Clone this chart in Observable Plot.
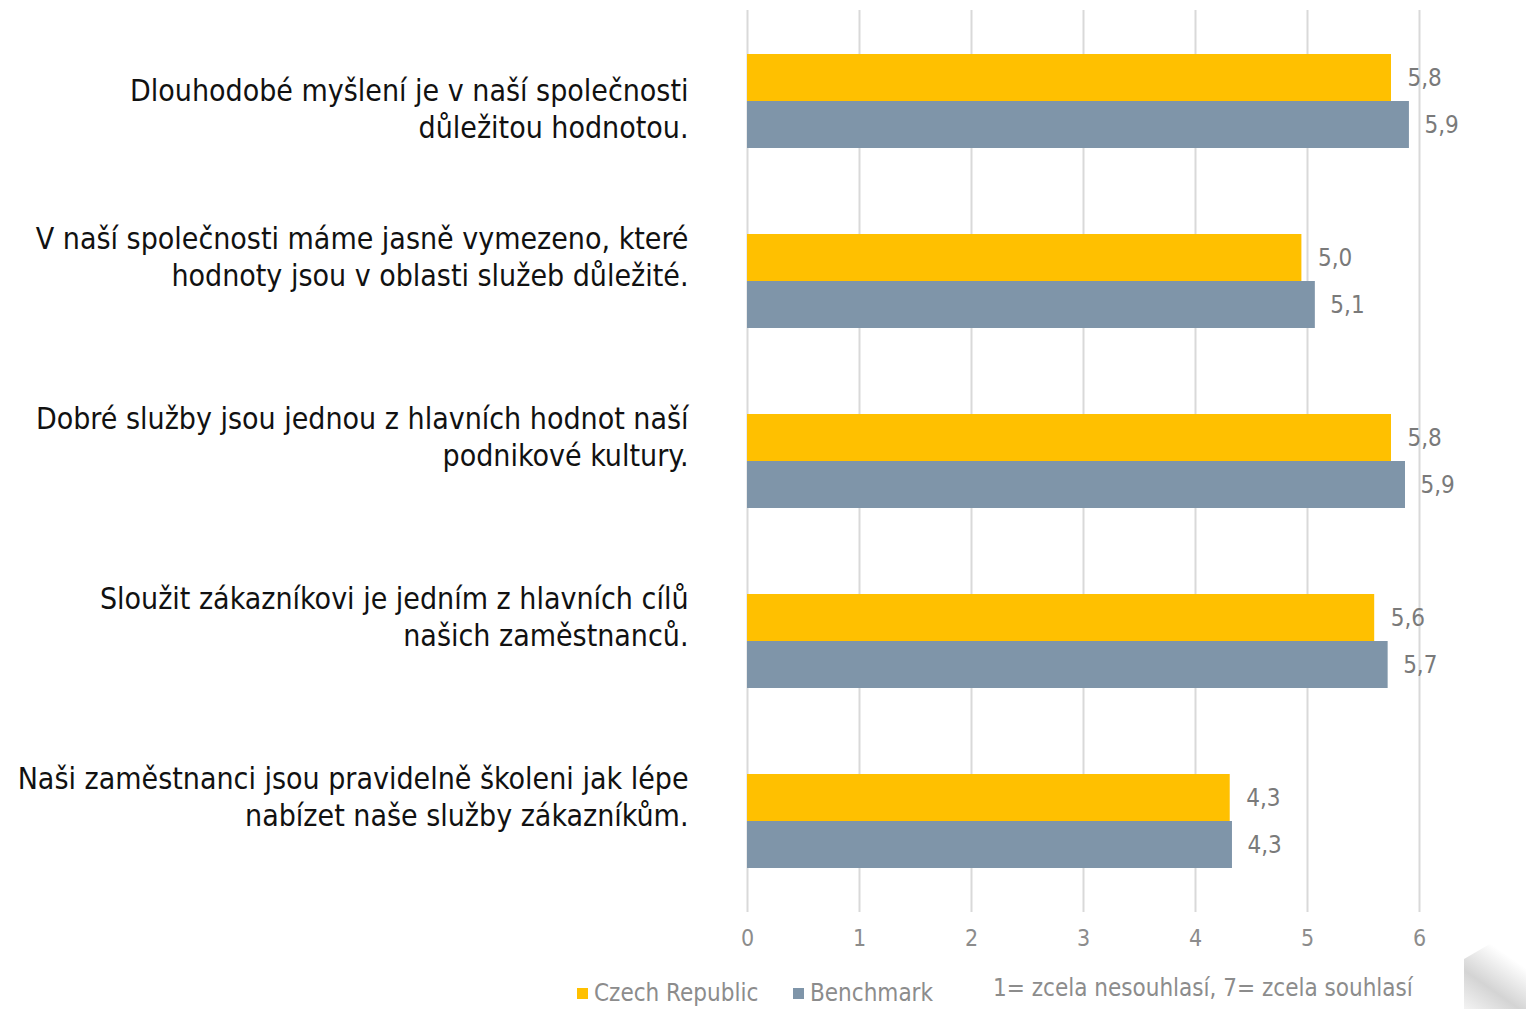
<!DOCTYPE html>
<html><head><meta charset="utf-8">
<script src="https://cdn.jsdelivr.net/npm/d3@7"></script>
<script src="https://cdn.jsdelivr.net/npm/@observablehq/plot@0.6"></script>
<style>
body{margin:0;background:#fff;font-family:"DejaVu Sans Condensed","DejaVu Sans",sans-serif;}
#wrap{position:relative;width:1526px;height:1009px;overflow:hidden;background:#fff}
#chart svg{display:block}
.legend{position:absolute;top:979px;left:0;width:1526px;height:30px;font-size:24px;color:#8c8c8c}
.item{position:absolute;top:0;display:flex;align-items:center;gap:6px;white-space:nowrap}
.sw{display:inline-block;width:11px;height:11px}
.note{position:absolute;top:974px;left:993px;font-size:24px;color:#8c8c8c;white-space:nowrap}
.corner{position:absolute;right:0;bottom:0;width:62px;height:86px;
  background:linear-gradient(215deg,#ffffff 35%,#cfcfcf 70%,#f2f2f2 100%);
  clip-path:polygon(100% 0,100% 100%,0 100%,0 42%);opacity:.9}
</style></head><body><div id="wrap"><div id="chart"></div></div>
<script>
const questions = [
  "Dlouhodobé myšlení je v naší společnosti\ndůležitou hodnotou.",
  "V naší společnosti máme jasně vymezeno, které\nhodnoty jsou v oblasti služeb důležité.",
  "Dobré služby jsou jednou z hlavních hodnot naší\npodnikové kultury.",
  "Sloužit zákazníkovi je jedním z hlavních cílů\nnašich zaměstnanců.",
  "Naši zaměstnanci jsou pravidelně školeni jak lépe\nnabízet naše služby zákazníkům."
];
const series = ["Czech Republic", "Benchmark"];
const czValues = [5.75, 4.95, 5.75, 5.60, 4.31];
const bmValues = [5.91, 5.07, 5.875, 5.72, 4.33];
const czLabels = ["5,8", "5,0", "5,8", "5,6", "4,3"];
const bmLabels = ["5,9", "5,1", "5,9", "5,7", "4,3"];
const xTicks = [0, 1, 2, 3, 4, 5, 6];
const colors = ["#FFC000", "#7F95A9"];
const noteText = "1= zcela nesouhlasí, 7= zcela souhlasí";

const cz = questions.map((q, i) => ({question: q, series: series[0], value: czValues[i], label: czLabels[i]}));
const bm = questions.map((q, i) => ({question: q, series: series[1], value: bmValues[i], label: bmLabels[i]}));

const FONT = '"DejaVu Sans Condensed","DejaVu Sans",sans-serif';
const grey = "#8c8c8c";

const chart = Plot.plot({
  width: 1526,
  height: 962,
  marginLeft: 747,
  marginRight: 107,
  marginTop: 10,
  marginBottom: 50,
  style: {fontFamily: FONT, fontSize: "20px", background: "#fff", overflow: "visible"},
  x: {domain: [0, 6], axis: null},
  y: {domain: questions, type: "band", paddingInner: 0.479, paddingOuter: 0.24, axis: null},
  color: {domain: series, range: colors},
  marks: [
    Plot.ruleX(xTicks, {x: d => d, stroke: "#d9d9d9", strokeWidth: 2}),
    Plot.axisX(xTicks, {label: null, tickSize: 0, tickPadding: 17, fontSize: 23, fill: grey, tickFormat: d => String(d), fontFamily: FONT}),
    Plot.barX(cz, {x: "value", y: "question", fill: "series", insetBottom: 47}),
    Plot.barX(bm, {x: "value", y: "question", fill: "series", insetTop: 47}),
    Plot.text(cz, {x: "value", y: "question", text: "label", dy: -23.5, dx: 16, textAnchor: "start", fill: "#7a7a7a", fontSize: 24}),
    Plot.text(bm, {x: "value", y: "question", text: "label", dy: 23.5, dx: 15, textAnchor: "start", fill: "#7a7a7a", fontSize: 24}),
    Plot.text(questions.slice(0, 1), {y: d => d, text: d => d, frameAnchor: "left", textAnchor: "end", dx: -59, dy: 6, lineHeight: 1.23, fontSize: 30, fill: "#111"}),
    Plot.text(questions.slice(1), {y: d => d, text: d => d, frameAnchor: "left", textAnchor: "end", dx: -59, dy: -26, lineHeight: 1.23, fontSize: 30, fill: "#111"})
  ]
});
document.getElementById("chart").appendChild(chart);

const wrap = document.getElementById("wrap");
const legend = document.createElement("div");
legend.className = "legend";
const legendX = [577, 793];
series.forEach((s, i) => {
  const it = document.createElement("div");
  it.className = "item";
  it.style.left = legendX[i] + "px";
  const sw = document.createElement("span");
  sw.className = "sw";
  sw.style.background = colors[i];
  const t = document.createElement("span");
  t.textContent = s;
  it.appendChild(sw); it.appendChild(t);
  legend.appendChild(it);
});
wrap.appendChild(legend);
const note = document.createElement("div");
note.className = "note";
note.textContent = noteText;
wrap.appendChild(note);
const corner = document.createElement("div");
corner.className = "corner";
wrap.appendChild(corner);
</script>
</body></html>
